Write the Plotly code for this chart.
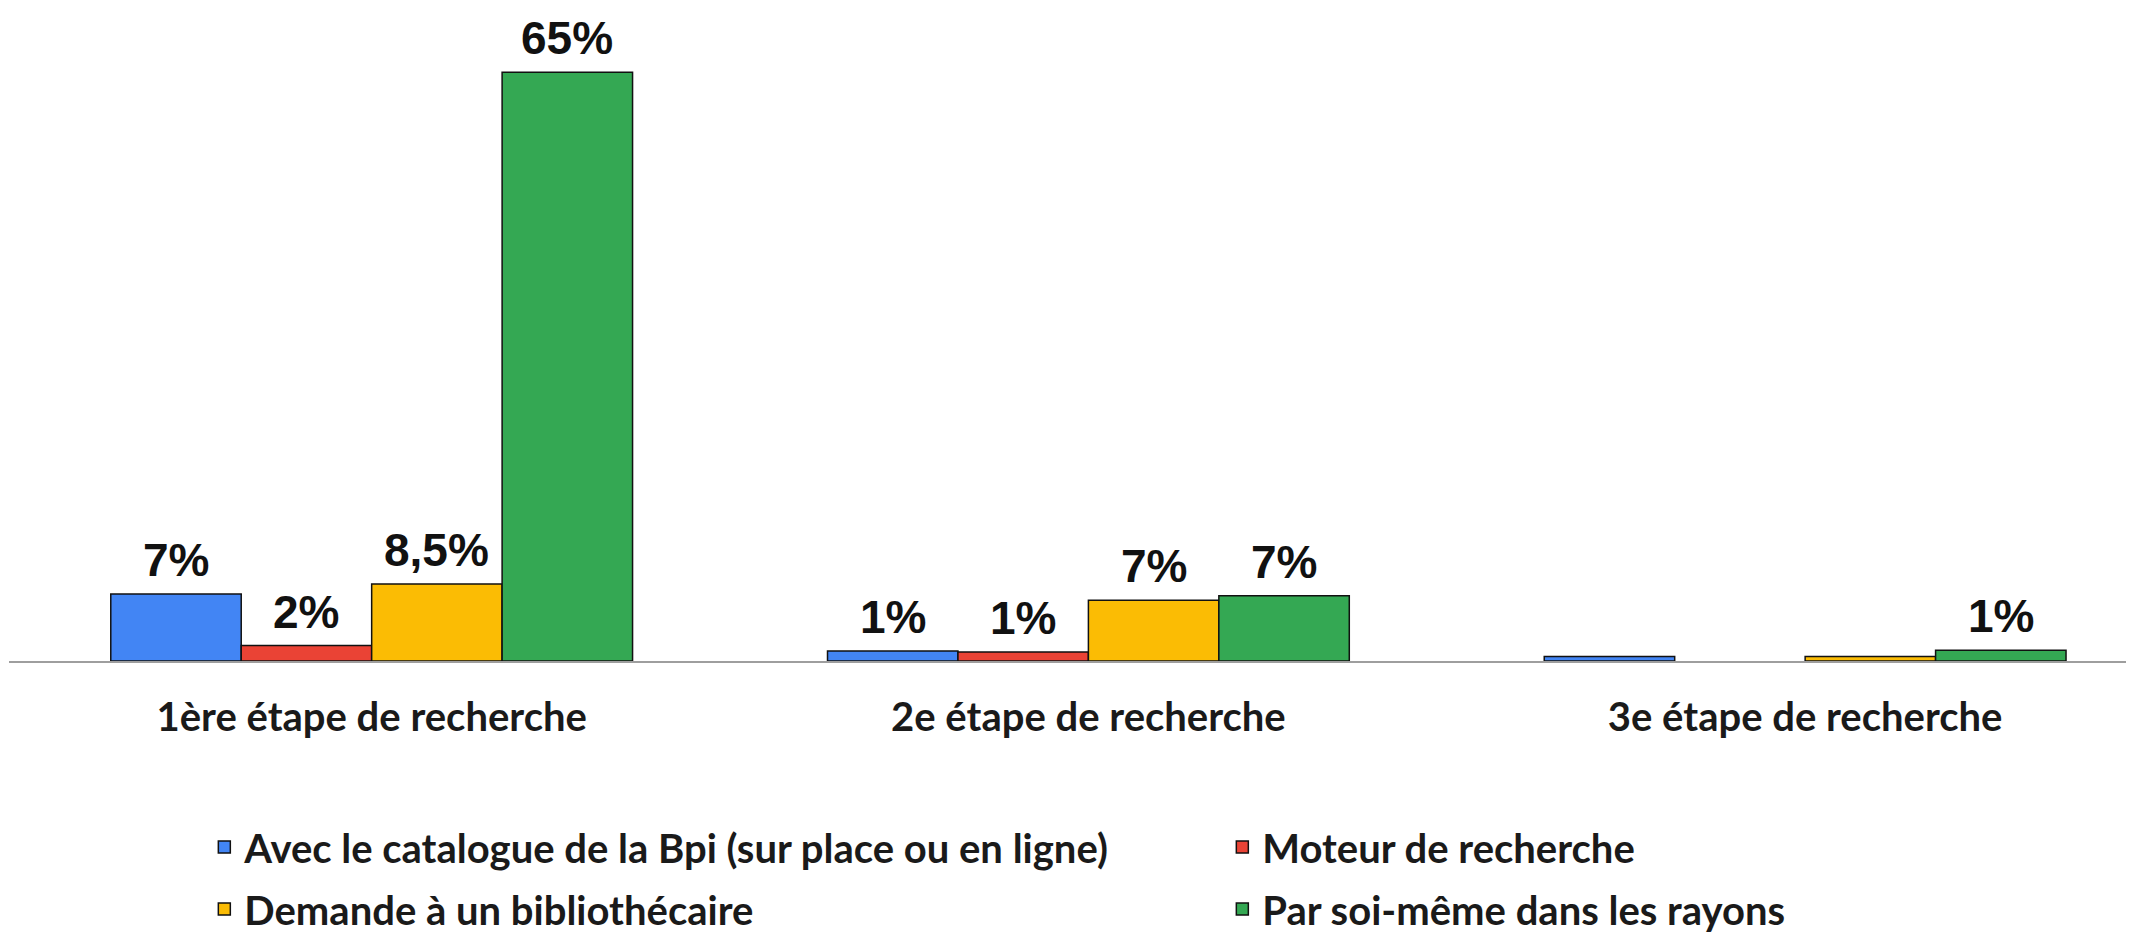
import plotly.graph_objects as go

# ---------------------------------------------------------------------------
# Data
# ---------------------------------------------------------------------------
categories = ["1ère étape de recherche", "2e étape de recherche", "3e étape de recherche"]

series_names = [
    "Avec le catalogue de la Bpi (sur place ou en ligne)",
    "Moteur de recherche",
    "Demande à un bibliothécaire",
    "Par soi-même dans les rayons",
]
series_colors = ["#4285F4", "#EA4335", "#FBBC04", "#34A853"]

catalogue = [7.4, 1.1, 0.5]
moteur = [1.7, 1.0, None]
bibliothecaire = [8.5, 6.7, 0.5]
rayons = [65, 7.2, 1.2]

catalogue_labels = ["7%", "1%", ""]
moteur_labels = ["2%", "1%", ""]
bibliothecaire_labels = ["8,5%", "7%", ""]
rayons_labels = ["65%", "7%", "1%"]

values = [catalogue, moteur, bibliothecaire, rayons]
labels = [catalogue_labels, moteur_labels, bibliothecaire_labels, rayons_labels]

# two legend rows -> two legends so the row spacing can be matched
legend_rows = ["legend", "legend", "legend2", "legend2"]

# ---------------------------------------------------------------------------
# Figure
# ---------------------------------------------------------------------------
BARGAP = 0.272
n_series = len(values)
bar_w = (1 - BARGAP) / n_series

fig = go.Figure()
for name, color, vals, leg in zip(series_names, series_colors, values, legend_rows):
    fig.add_trace(go.Bar(
        x=categories,
        y=vals,
        name=name,
        legend=leg,
        marker=dict(color=color, line=dict(color="#111111", width=1.5)),
    ))

# data labels above bars
for i, (vals, labs) in enumerate(zip(values, labels)):
    offset = (i - (n_series - 1) / 2) * bar_w
    for j, (v, lab) in enumerate(zip(vals, labs)):
        if not lab:
            continue
        fig.add_annotation(
            x=j + offset, y=v, text=lab,
            showarrow=False, yanchor="bottom", yshift=6,
            font=dict(family="Liberation Sans, Arial", size=46, color="#111111",
                      weight="bold"),
        )

legend_style = dict(
    orientation="h",
    xref="container", yref="container",
    x=0.092,
    xanchor="left", yanchor="middle",
    entrywidth=973,
    font=dict(family="Lato", size=40, color="#1a1a1a", weight="bold"),
    itemwidth=30,
    traceorder="normal",
)

# note: the page body adds an 8px offset, margins compensate for it
fig.update_layout(
    width=2134,
    height=932,
    paper_bgcolor="white",
    plot_bgcolor="white",
    barmode="group",
    bargap=BARGAP,
    bargroupgap=0,
    margin=dict(l=1, r=0, t=19, b=279),
    font=dict(family="Lato", color="#1a1a1a"),
    xaxis=dict(
        range=[-0.506, 2.47],
        showline=True,
        linecolor="#9e9e9e",
        linewidth=2,
        showgrid=False,
        ticks="",
        ticklabelstandoff=20,
        tickfont=dict(family="Lato", size=40, color="#1a1a1a", weight="bold"),
    ),
    yaxis=dict(
        range=[0, 70],
        visible=False,
        showgrid=False,
        zeroline=False,
    ),
    legend=dict(legend_style, y=0.0998),
    legend2=dict(legend_style, y=0.0333),
    showlegend=True,
)

fig.write_html("out.html")
